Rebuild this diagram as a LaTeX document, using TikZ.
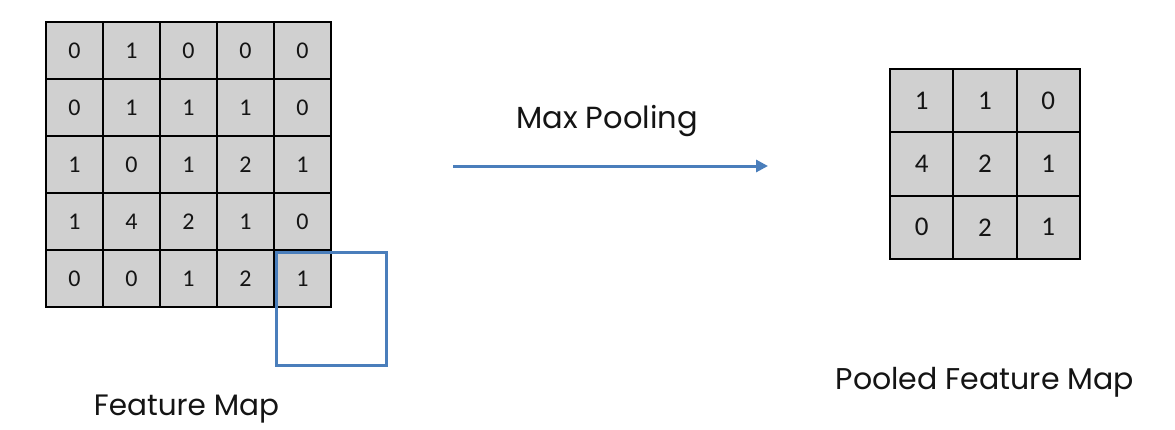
\documentclass[tikz,border=0pt]{standalone}
\usepackage{fontspec}
\setmainfont{Poppins}
\newfontfamily\cellfont{Carlito}
\usetikzlibrary{arrows.meta}
\definecolor{cellgray}{HTML}{D0D0D0}
\definecolor{poolblue}{HTML}{4A7EBB}
\definecolor{inkdark}{HTML}{141414}

\begin{document}
\begin{tikzpicture}[x=1pt,y=-1pt,
  fmcell/.style={draw=black, fill=cellgray, line width=2pt, minimum size=57pt,
    inner sep=0pt, font=\cellfont\fontsize{24}{24}\selectfont, text=inkdark},
  poolcell/.style={draw=black, fill=cellgray, line width=2pt, minimum size=63.3pt,
    inner sep=0pt, font=\cellfont\fontsize{27}{27}\selectfont, text=inkdark},
  caption/.style={anchor=base, inner sep=0pt, text=inkdark},
  window/.style={draw=poolblue, line width=3pt},
  flow/.style={draw=poolblue, line width=3pt, -{Triangle[length=12pt,width=12pt]}}]
\useasboundingbox[fill=white] (0,0) rectangle (1175,429);

% 5x5 feature map
\foreach \r/\vals in {0/{0,1,0,0,0},1/{0,1,1,1,0},2/{1,0,1,2,1},3/{1,4,2,1,0},4/{0,0,1,2,1}}{
  \foreach \v [count=\c from 0] in \vals {
    \node[fmcell] (f-\r-\c) at (46+28.5+57*\c, 22+28.5+57*\r) {\v};
  }
}

% 3x3 pooled map
\foreach \r/\vals in {0/{1,1,0},1/{4,2,1},2/{0,2,1}}{
  \foreach \v [count=\c from 0] in \vals {
    \node[poolcell] (p-\r-\c) at (890+31.65+63.3*\c, 69+31.65+63.3*\r) {\v};
  }
}

% 2x2 pooling window at the lower right corner
\node[window, minimum width=110pt, minimum height=113pt, inner sep=0pt, anchor=north west]
  (win) at (275,251) {};

% operation arrow
\coordinate (arrstart) at (453,166);
\coordinate (arrend) at (768,166);
\draw[flow] (arrstart) -- (arrend);

% captions
\node[caption, font=\fontsize{30.5}{30.5}\selectfont] (optext) at (607,128) {Max Pooling};
\node[caption, font=\fontsize{29.5}{29.5}\selectfont] (fmtext) at (186.5,415) {Feature Map};
\node[caption, font=\fontsize{30}{30}\selectfont] (pooltext) at (985,389) {Pooled Feature Map};
\end{tikzpicture}
\end{document}
